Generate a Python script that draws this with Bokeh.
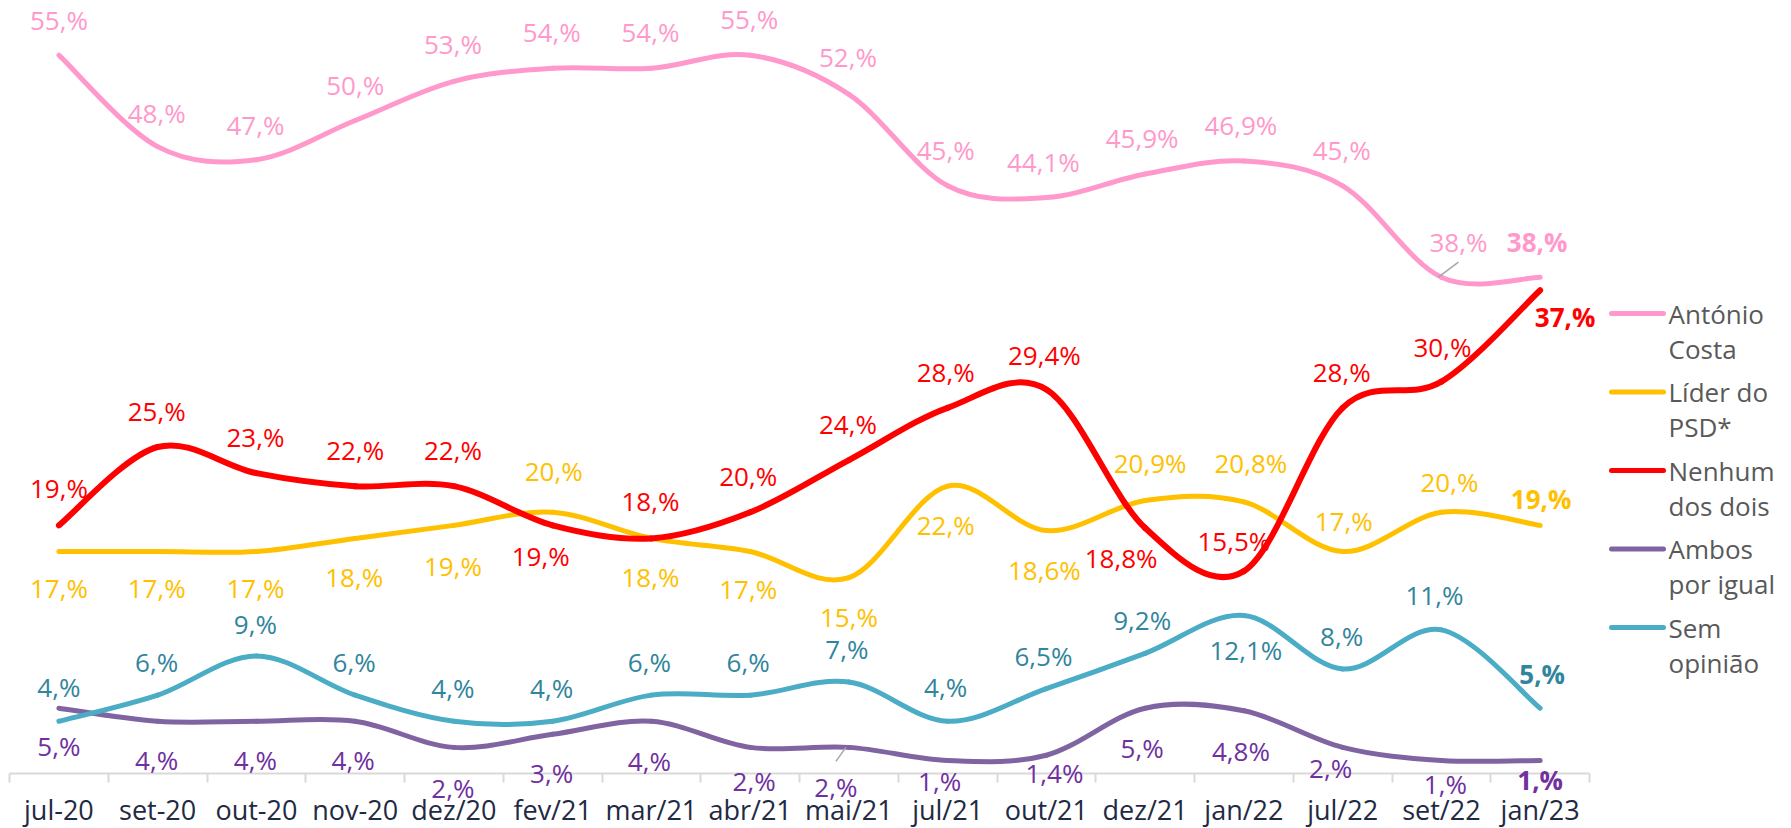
import numpy as np
from bokeh.plotting import figure
from bokeh.models import Range1d, FixedTicker, ColumnDataSource, LabelSet
from bokeh.core.properties import value
from bokeh.embed import file_html
from bokeh.resources import INLINE

# ---------------- data ----------------
categories = ["jul-20", "set-20", "out-20", "nov-20", "dez/20", "fev/21", "mar/21", "abr/21",
              "mai/21", "jul/21", "out/21", "dez/21", "jan/22", "jul/22", "set/22", "jan/23"]
antonio_costa = [55, 48, 47, 50, 53, 54, 54, 55, 52, 45, 44.1, 45.9, 46.9, 45, 38, 38]
lider_psd = [17, 17, 17, 18, 19, 20, 18, 17, 15, 22, 18.6, 20.9, 20.8, 17, 20, 19]
nenhum = [19, 25, 23, 22, 22, 19, 18, 20, 24, 28, 29.4, 18.8, 15.5, 28, 30, 37]
ambos = [5, 4, 4, 4, 2, 3, 4, 2, 2, 1, 1.4, 5, 4.8, 2, 1, 1]
sem_opiniao = [4, 6, 9, 6, 4, 4, 6, 6, 7, 4, 6.5, 9.2, 12.1, 8, 11, 5]
legend_names = [["António", "Costa"], ["Líder do", "PSD*"], ["Nenhum", "dos dois"],
                ["Ambos", "por igual"], ["Sem", "opinião"]]

# ---------------- label placement (screen px, up = positive) ----------------
off_costa = ([0, -1, -1, 0, -1, -1, -1, -1, -1, -2, -3, -3, -3, -1, 17, -3],
             [35, 34, 35, 36, 37, 36, 36, 36, 37, 36, 36, 36, 36, 36, 35, 35])
off_psd = ([0, -1, -1, -1, -1, 1, -1, -2, 0, -2, -2, 5, 7, 1, 8, 1],
           [-37, -37, -37, -39, -41, 41, -39, -38, -39, -39, -39, 38, 39, 30, 30, 26])
off_nenhum = ([0, -1, -1, 0, -1, -12, -1, -2, -1, -2, -2, -24, -10, -1, 1, 25],
              [37, 36, 36, 36, 36, -31, 37, 36, 36, 36, 35, -30, 30, 36, 35, -27])
off_ambos = ([0, -1, -1, -2, -1, -1, -2, 4, -13, -8, 8, -3, -3, -12, 4, 0],
             [-38, -39, -39, -39, -41, -39, -40, -34, -40, -21, -18, -40, -40, -21, -24, -20])
off_sem = ([0, -1, -1, -1, -1, -1, -2, -2, -2, -2, -3, -3, 2, -1, -7, 2],
           [34, 33, 32, 33, 33, 33, 33, 33, 33, 34, 33, 33, -35, 33, 35, 34])

FONT = "Open Sans"
LBL_SIZE = "26px"

series = [
    (antonio_costa, "#FF99CC", "#FF99CC", 5, off_costa),
    (lider_psd, "#FFC000", "#FFC000", 5, off_psd),
    (nenhum, "#FF0000", "#FF0000", 6, off_nenhum),
    (ambos, "#8064A2", "#7030A0", 5, off_ambos),
    (sem_opiniao, "#4BACC6", "#31859C", 5, off_sem),
]

# ---------------- geometry (figure pixels) ----------------
W, H = 1791, 828
PX_PER_X = 98.75
PX_PER_Y = 13.06
X0_PX = 58.4      # x of first category
Y0_PX = 773.0     # y of value 0

x_start = -X0_PX / PX_PER_X
x_end = x_start + W / PX_PER_X
y_end = Y0_PX / PX_PER_Y
y_start = -(H - Y0_PX) / PX_PER_Y


def px_x(px):
    return (px - X0_PX) / PX_PER_X


def px_y(py):
    return (Y0_PX - py) / PX_PER_Y


p = figure(width=W, height=H, output_backend="svg", toolbar_location=None,
           x_range=Range1d(x_start, x_end), y_range=Range1d(y_start, y_end),
           min_border_left=0, min_border_right=0, min_border_top=0, min_border_bottom=0)
p.yaxis.visible = False
p.grid.visible = False
p.outline_line_color = None
p.background_fill_color = "white"
p.border_fill_color = "white"

n = len(categories)
xs = np.arange(n, dtype=float)


def fmt(v):
    if float(v).is_integer():
        return f"{int(v)},%"
    return f"{v}".replace(".", ",") + "%"


for vals, lcol, tcol, lw, (dxs, dys) in series:
    y = np.array(vals, dtype=float)
    # Catmull-Rom style bezier segments (smoothed line like the source)
    pm = np.concatenate([[y[0]], y, [y[-1]]])
    xm = np.concatenate([[xs[0]], xs, [xs[-1]]])
    x0 = xs[:-1]; x1 = xs[1:]
    y0 = y[:-1]; y1 = y[1:]
    cx0 = x0 + (xm[2:-1] - xm[0:-3]) / 6.0
    cy0 = y0 + (pm[2:-1] - pm[0:-3]) / 6.0
    cx1 = x1 - (xm[3:] - xm[1:-2]) / 6.0
    cy1 = y1 - (pm[3:] - pm[1:-2]) / 6.0
    p.bezier(x0=x0, y0=y0, x1=x1, y1=y1, cx0=cx0, cy0=cy0, cx1=cx1, cy1=cy1,
             line_color=lcol, line_width=lw, line_cap="round")

    texts = [fmt(v) for v in vals]
    src = ColumnDataSource(dict(x=xs[:-1], y=y[:-1], t=texts[:-1], dx=dxs[:-1], dy=dys[:-1]))
    p.add_layout(LabelSet(x="x", y="y", text="t", x_offset="dx", y_offset="dy", source=src,
                          text_align="center", text_baseline="middle",
                          text_font=value(FONT), text_font_size=LBL_SIZE, text_color=tcol))
    src_last = ColumnDataSource(dict(x=xs[-1:], y=y[-1:], t=texts[-1:], dx=dxs[-1:], dy=dys[-1:]))
    p.add_layout(LabelSet(x="x", y="y", text="t", x_offset="dx", y_offset="dy", source=src_last,
                          text_align="center", text_baseline="middle", text_font_style="bold",
                          text_font=value(FONT), text_font_size=LBL_SIZE, text_color=tcol))

# leader lines for two displaced labels
i_set22 = categories.index("set/22")
p.segment(x0=[i_set22 - 3 / PX_PER_X], y0=[antonio_costa[i_set22]],
          x1=[i_set22 + 17 / PX_PER_X], y1=[antonio_costa[i_set22] + 15 / PX_PER_Y],
          line_color="#A6A6A6", line_width=1.5)
i_mai = categories.index("mai/21")
p.segment(x0=[i_mai - 3 / PX_PER_X], y0=[ambos[i_mai]],
          x1=[i_mai - 13 / PX_PER_X], y1=[ambos[i_mai] - 14 / PX_PER_Y],
          line_color="#A6A6A6", line_width=1.5)

# x axis, pinned at value 0 inside the frame
ax = p.xaxis[0]
ax.fixed_location = 0
ax.ticker = FixedTicker(ticks=list(range(n)), minor_ticks=[i - 0.5 for i in range(n + 1)])
ax.major_label_overrides = {i: c for i, c in enumerate(categories)}
ax.bounds = (-0.5, n - 0.5)
ax.axis_line_color = "#D9D9D9"
ax.axis_line_width = 2
ax.major_tick_line_color = None
ax.major_tick_out = 0
ax.major_tick_in = 0
ax.minor_tick_line_color = "#D9D9D9"
ax.minor_tick_line_width = 2
ax.minor_tick_out = 9
ax.minor_tick_in = 0
ax.major_label_standoff = 8
ax.major_label_text_font = FONT
ax.major_label_text_font_size = "27px"
ax.major_label_text_color = "#1F2A44"

# legend (drawn manually, two-line labels)
colors = [s[1] for s in series]
for k, (name, col) in enumerate(zip(legend_names, colors)):
    ly = 313 + k * 78.5
    p.segment(x0=[px_x(1611)], y0=[px_y(ly)], x1=[px_x(1663)], y1=[px_y(ly)],
              line_color=col, line_width=5, line_cap="round")
    p.text(x=[px_x(1668), px_x(1668)], y=[px_y(ly), px_y(ly + 35)], text=name,
           text_align="left", text_baseline="middle", text_font=value(FONT),
           text_font_size="26px", text_color="#595959")

open("out.html", "w").write(file_html(p, INLINE))
